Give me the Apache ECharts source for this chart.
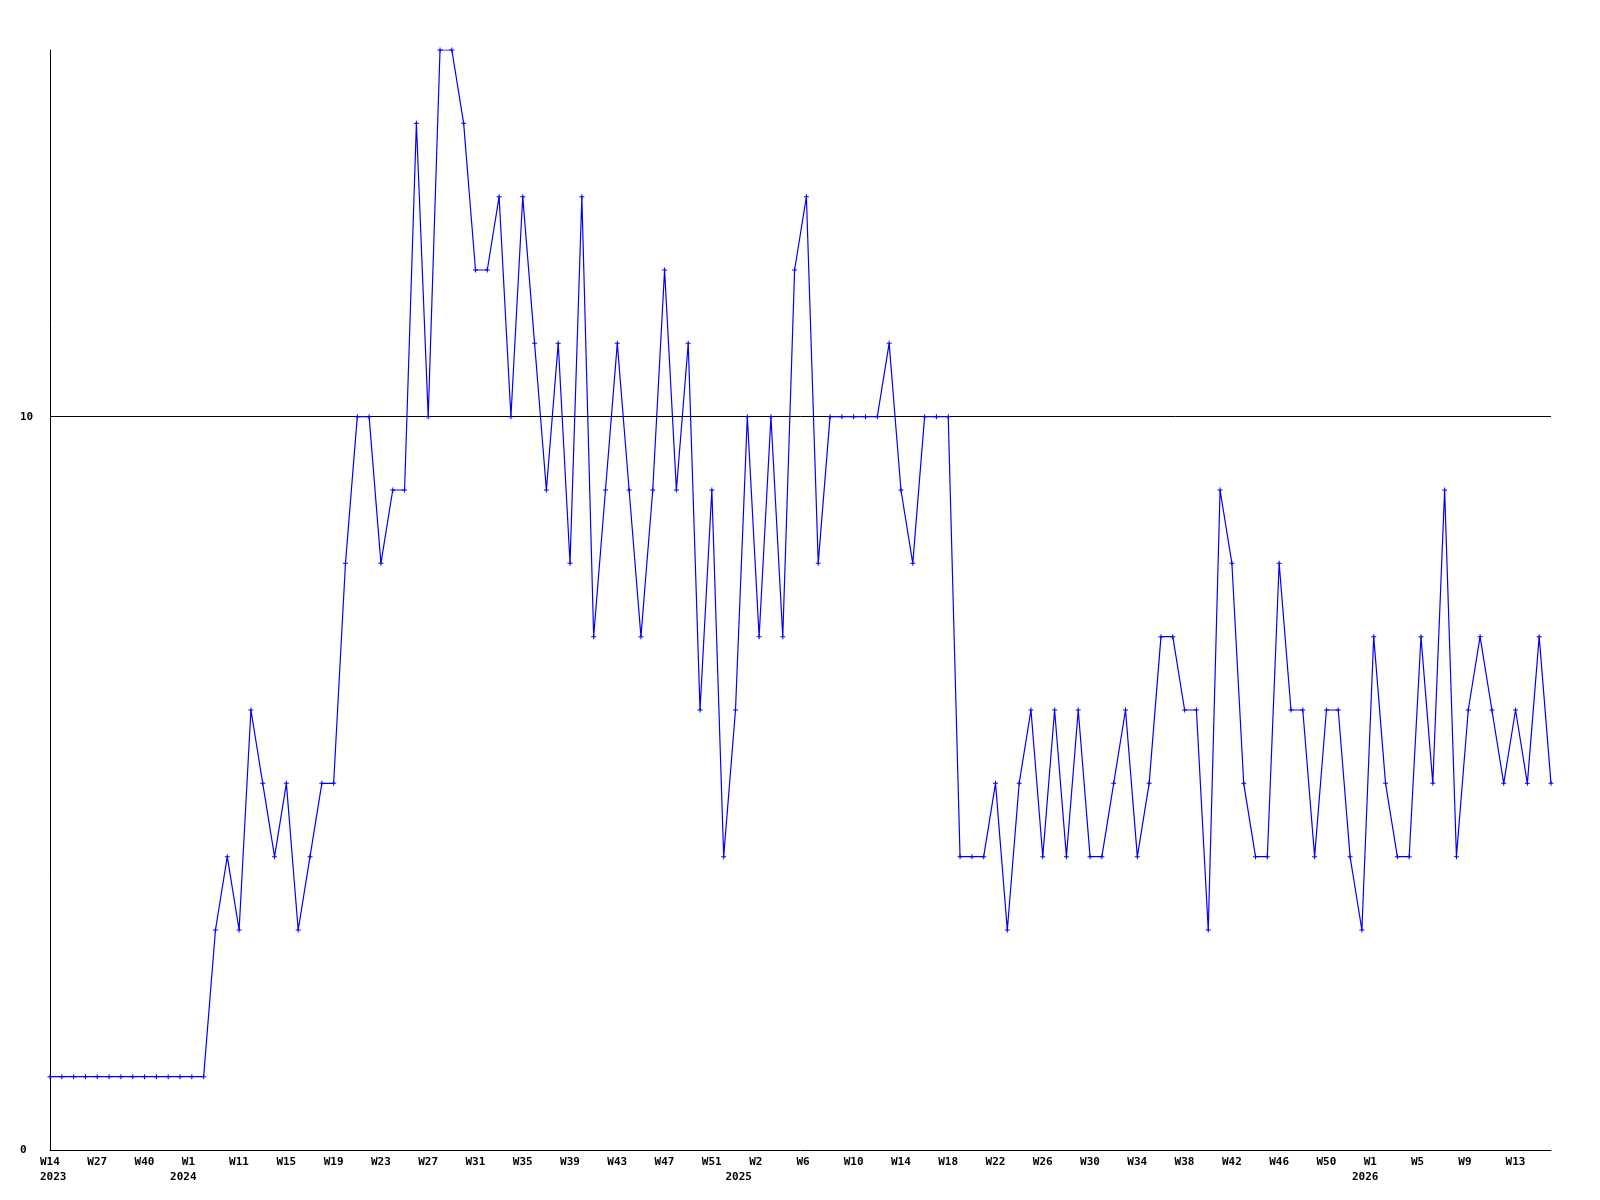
<!DOCTYPE html>
<html>
<head>
<meta charset="utf-8">
<script src="https://cdn.jsdelivr.net/npm/echarts@6/dist/echarts.min.js"></script>
<style>
html,body{margin:0;padding:0;background:#fff;}
#chart{width:1600px;height:1200px;}
</style>
</head>
<body>
<div id="chart"></div>
<script>
// Week categories (labels shown on every 4th)
const weeks = [
  'W14','W17','W20','W24','W27','W30','W33','W37','W40','W43','W47','W0',
  'W1','W3','W6','W8','W11','W12','W13','W14','W15','W16','W17','W18','W19','W20',
  'W21','W22','W23','W24','W25','W26','W27','W28','W29','W30','W31','W32','W33','W34',
  'W35','W36','W37','W38','W39','W40','W41','W42','W43','W44','W45','W46','W47','W48',
  'W49','W50','W51','W52',
  'W0','W1','W2','W3','W4','W5','W6','W7','W8','W9','W10','W11','W12','W13','W14','W15',
  'W16','W17','W18','W19','W20','W21','W22','W23','W24','W25','W26','W27','W28','W29',
  'W30','W31','W32','W33','W34','W35','W36','W37','W38','W39','W40','W41','W42','W43',
  'W44','W45','W46','W47','W48','W49','W50','W51','W52',
  'W0','W1','W2','W3','W4','W5','W6','W7','W8','W9','W10','W11','W12','W13','W14','W15','W16'
];
// Year labels and the category index where each year starts
const yearIndex = [0, 11, 58, 111];
const yearLabels = ['2023', '2024', '2025', '2026'];

// Series values
const values = [
  1,1,1,1,1,1,1,1,1,1,1,1,1,1,
  3,4,3,6,5,4,5,3,4,5,5,8,10,10,8,9,9,14,10,15,15,14,12,12,13,10,
  13,11,9,11,8,13,7,9,11,9,7,9,12,9,11,6,9,4,6,10,7,10,7,12,13,8,
  10,10,10,10,10,11,9,8,10,10,10,4,4,4,5,3,5,6,4,6,4,6,4,4,5,6,
  4,5,7,7,6,6,3,9,8,5,4,4,8,6,6,4,6,6,4,3,7,5,4,4,7,5,9,4,6,7,
  6,5,6,5,7,5
];

// Y-axis settings
const yMin = 0, yMax = 15, yInterval = 10, refLine = 10;

const fontFam = '"DejaVu Sans Mono", monospace';
const chart = echarts.init(document.getElementById('chart'), null, {renderer: 'canvas'});
chart.setOption({
  animation: false,
  backgroundColor: '#ffffff',
  grid: {left: 50, right: 49, top: 50, bottom: 50, containLabel: false},
  xAxis: [
    {
      type: 'category',
      data: weeks,
      boundaryGap: false,
      axisLine: {show: true, lineStyle: {color: '#000', width: 1}},
      axisTick: {show: false},
      splitLine: {show: false},
      axisLabel: {
        interval: 3,
        align: 'left',
        padding: [0, 0, 0, -10],
        margin: 7,
        color: '#000',
        fontFamily: fontFam,
        fontWeight: 'bold',
        fontSize: 11,
        hideOverlap: false
      }
    },
    {
      type: 'category',
      data: weeks,
      boundaryGap: false,
      position: 'bottom',
      gridIndex: 0,
      axisLine: {show: false},
      axisTick: {show: false},
      splitLine: {show: false},
      axisLabel: {
        interval: function (idx) { return yearIndex.indexOf(idx) >= 0; },
        formatter: function (v, idx) {
          const k = yearIndex.indexOf(idx);
          return k >= 0 ? yearLabels[k] : '';
        },
        align: 'left',
        padding: [0, 0, 0, -10],
        margin: 22,
        color: '#000',
        fontFamily: fontFam,
        fontWeight: 'bold',
        fontSize: 11,
        hideOverlap: false
      }
    }
  ],
  yAxis: {
    type: 'value',
    min: yMin,
    max: yMax,
    interval: yInterval,
    axisLine: {show: true, lineStyle: {color: '#000', width: 1}},
    axisTick: {show: false},
    splitLine: {show: false},
    axisLabel: {
      showMaxLabel: false,
      align: 'left',
      margin: 30,
      color: '#000',
      fontFamily: fontFam,
      fontWeight: 'bold',
      fontSize: 11
    }
  },
  series: [{
    type: 'line',
    data: values,
    xAxisIndex: 0,
    yAxisIndex: 0,
    symbol: 'path://M0,2H5V3H0Z M2,0H3V5H2Z',
    symbolSize: 5,
    showSymbol: true,
    showAllSymbol: true,
    lineStyle: {color: '#0000ff', width: 1.2},
    itemStyle: {color: '#0000ff', borderWidth: 0},
    emphasis: {disabled: true},
    z: 3,
    markLine: {
      silent: true,
      symbol: 'none',
      label: {show: false},
      lineStyle: {color: '#000', width: 1, type: 'solid'},
      data: [{yAxis: refLine}],
      z: 1
    }
  }]
});
</script>
</body>
</html>
